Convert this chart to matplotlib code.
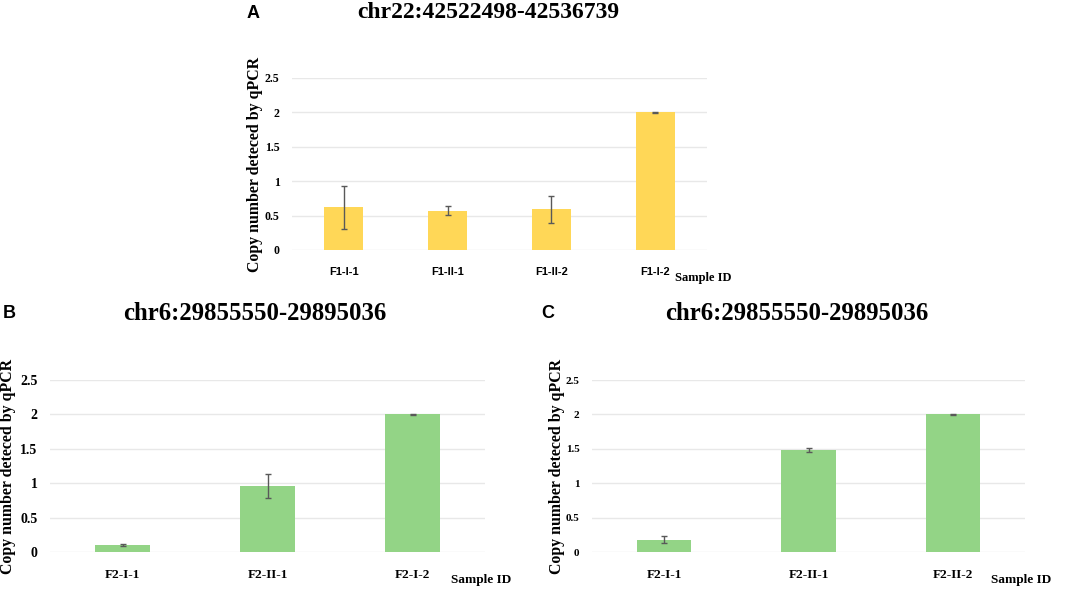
import numpy as np
import matplotlib
matplotlib.use("Agg")
import matplotlib.pyplot as plt

# panel A
a_labels = ["F1-I-1", "F1-II-1", "F1-II-2", "F1-I-2"]
a_values = [0.62, 0.57, 0.59, 2.0]
a_errors = [0.31, 0.065, 0.195, 0.003]

# panel B
b_labels = ["F2-I-1", "F2-II-1", "F2-I-2"]
b_values = [0.10, 0.96, 2.0]
b_errors = [0.02, 0.17, 0.003]

# panel C
c_labels = ["F2-I-1", "F2-II-1", "F2-II-2"]
c_values = [0.18, 1.48, 2.0]
c_errors = [0.05, 0.025, 0.003]

yticks = [0, 0.5, 1, 1.5, 2, 2.5]
ytick_labels = ["0", "0.5", "1", "1.5", "2", "2.5"]

YELLOW = "#FFD757"
GREEN = "#93D486"
SERIF = "Liberation Serif"
SANS = "Liberation Sans"

W, H = 1065, 589
fig = plt.figure(figsize=(W / 100, H / 100), dpi=100)


def add_panel(left, right, top, bottom, labels, values, errors, color,
              ytick_size, xtick_family, xtick_size, ylab_x, sid_size):
    ax = fig.add_axes([left / W, 1 - bottom / H, (right - left) / W, (bottom - top) / H])
    x = np.arange(len(labels))
    ax.bar(x, values, width=0.375, color=color, zorder=2)
    ax.errorbar(x, values, yerr=errors, fmt="none", ecolor="#595959",
                elinewidth=1, capsize=2, capthick=1, zorder=3)
    ax.set_xlim(-0.5, len(labels) - 0.5)
    ax.set_ylim(0, 2.5)
    ax.set_yticks(yticks)
    ax.set_yticklabels(ytick_labels, fontfamily=SERIF, fontweight="bold", fontsize=ytick_size)
    ax.set_xticks(x)
    ax.set_xticklabels(labels, fontfamily=xtick_family, fontweight="bold", fontsize=xtick_size)
    ax.tick_params(axis="both", length=0)
    ax.tick_params(axis="y", pad=9)
    ax.tick_params(axis="x", pad=12)
    for s in ax.spines.values():
        s.set_visible(False)
    ax.grid(axis="y", color="#E8E8E8", linewidth=1, zorder=0)
    ax.set_axisbelow(True)
    ax.set_ylabel("Copy number deteced by qPCR", fontfamily=SERIF, fontweight="bold",
                  fontsize=11.4, va="center")
    ax.yaxis.set_label_coords(ylab_x, 0.5)
    ax.text(0.99, -0.16, "Sample ID", transform=ax.transAxes, ha="center", va="center",
            fontfamily=SERIF, fontweight="bold", fontsize=sid_size)
    return ax


add_panel(292, 707, 78, 250, a_labels, a_values, a_errors, YELLOW,
          8.6, SANS, 8, -0.089, 9)
add_panel(50, 485, 380, 552, b_labels, b_values, b_errors, GREEN,
          10, SERIF, 9.5, -0.097, 9.5)
add_panel(592, 1025, 380, 552, c_labels, c_values, c_errors, GREEN,
          8, SERIF, 9.5, -0.081, 9.5)

# titles and panel letters
fig.text(488 / W, 1 - 13 / H, "chr22:42522498-42536739", ha="center", va="center",
         fontfamily=SERIF, fontweight="bold", fontsize=17)
fig.text(255 / W, 1 - 314 / H, "chr6:29855550-29895036", ha="center", va="center",
         fontfamily=SERIF, fontweight="bold", fontsize=17.8)
fig.text(797 / W, 1 - 314 / H, "chr6:29855550-29895036", ha="center", va="center",
         fontfamily=SERIF, fontweight="bold", fontsize=17.8)
fig.text(253 / W, 1 - 13 / H, "A", ha="center", va="center",
         fontfamily=SANS, fontweight="bold", fontsize=13)
fig.text(9 / W, 1 - 313 / H, "B", ha="center", va="center",
         fontfamily=SANS, fontweight="bold", fontsize=13)
fig.text(548 / W, 1 - 313 / H, "C", ha="center", va="center",
         fontfamily=SANS, fontweight="bold", fontsize=13)

fig.savefig("out.png", dpi=100)
